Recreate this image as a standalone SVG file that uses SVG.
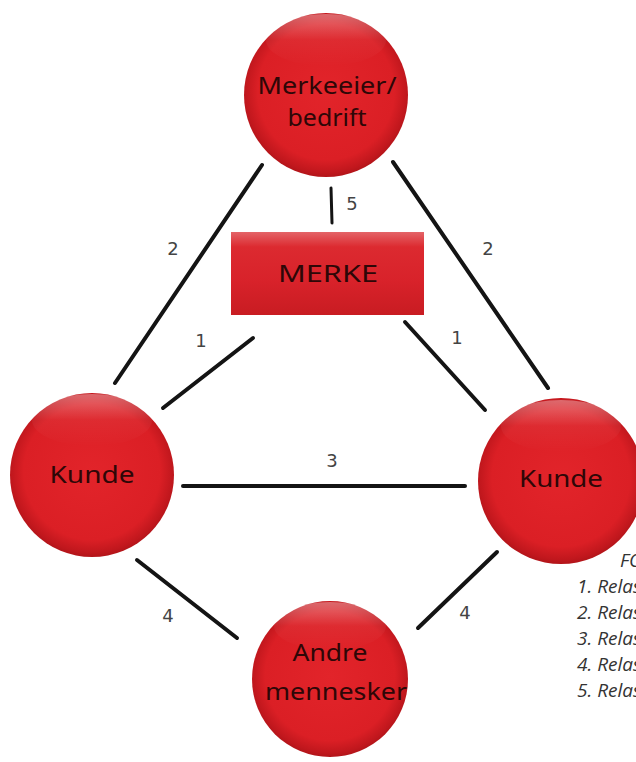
<svg xmlns="http://www.w3.org/2000/svg" width="636" height="762" viewBox="0 0 636 762">
  <defs>
    <radialGradient id="ball" cx="50%" cy="48%" r="52%">
      <stop offset="0" stop-color="#e2242a"/>
      <stop offset="0.8" stop-color="#db1f25"/>
      <stop offset="0.95" stop-color="#c0171d"/>
      <stop offset="1" stop-color="#b21419"/>
    </radialGradient>
    <linearGradient id="shine" x1="0" y1="0" x2="0" y2="1">
      <stop offset="0" stop-color="#ffffff" stop-opacity="0.35"/>
      <stop offset="0.5" stop-color="#ffffff" stop-opacity="0.05"/>
      <stop offset="1" stop-color="#ffffff" stop-opacity="0"/>
    </linearGradient>
    <linearGradient id="box" x1="0" y1="0" x2="0" y2="1">
      <stop offset="0" stop-color="#e46468"/>
      <stop offset="0.18" stop-color="#dc2a30"/>
      <stop offset="0.6" stop-color="#d8222a"/>
      <stop offset="1" stop-color="#c81c22"/>
    </linearGradient>
  </defs>
  <style>
    .ball { fill: url(#ball); }
    .shine { fill: url(#shine); }
    .lbl { font-family: "Noto Sans", "Open Sans", sans-serif; fill: #2e0707; text-anchor: middle; font-size: 24px; }
    .num { font-family: "DejaVu Sans", "Liberation Sans", sans-serif; fill: #444444; text-anchor: middle; font-size: 18px; }
    .conn line { stroke: #141414; stroke-width: 4; stroke-linecap: round; }
    .leg { font-family: "Open Sans", "Noto Sans", sans-serif; font-style: italic; fill: #333; font-size: 19px; }
  </style>

  <g id="connectors" class="conn">
    <line x1="262" y1="165" x2="115" y2="383"/>
    <line x1="393" y1="162" x2="548" y2="388"/>
    <line x1="163" y1="408" x2="253" y2="338"/>
    <line x1="405" y1="322" x2="485" y2="410"/>
    <line x1="183" y1="486" x2="465" y2="486"/>
    <line x1="137" y1="560" x2="237" y2="638"/>
    <line x1="497" y1="552" x2="418" y2="628"/>
    <line x1="331" y1="188" x2="332" y2="223" style="stroke-width:3"/>
  </g>

  <g id="connector-labels">
    <text class="num" x="173" y="255">2</text>
    <text class="num" x="488" y="255">2</text>
    <text class="num" x="201" y="347">1</text>
    <text class="num" x="457" y="344">1</text>
    <text class="num" x="332" y="467">3</text>
    <text class="num" x="168" y="622">4</text>
    <text class="num" x="465" y="619">4</text>
    <text class="num" x="352" y="210">5</text>
  </g>

  <g id="node-merkeeier">
    <circle class="ball" cx="326" cy="95" r="82"/>
    <ellipse class="shine" cx="326" cy="40" rx="60" ry="26"/>
    <text class="lbl" x="327" y="94" textLength="139" lengthAdjust="spacingAndGlyphs">Merkeeier/</text>
    <text class="lbl" x="327" y="126" textLength="79" lengthAdjust="spacingAndGlyphs">bedrift</text>
  </g>

  <g id="node-merke">
    <rect x="231" y="232" width="193" height="83" fill="url(#box)"/>
    <text class="lbl" x="328" y="282" textLength="100" lengthAdjust="spacingAndGlyphs">MERKE</text>
  </g>

  <g id="node-kunde-left">
    <circle class="ball" cx="92" cy="475" r="82"/>
    <ellipse class="shine" cx="92" cy="420" rx="60" ry="26"/>
    <text class="lbl" x="92" y="483" textLength="85" lengthAdjust="spacingAndGlyphs">Kunde</text>
  </g>

  <g id="node-kunde-right">
    <circle class="ball" cx="561" cy="481" r="83"/>
    <ellipse class="shine" cx="561" cy="426" rx="60" ry="26"/>
    <text class="lbl" x="561" y="487" textLength="84" lengthAdjust="spacingAndGlyphs">Kunde</text>
  </g>

  <g id="node-andre">
    <circle class="ball" cx="330" cy="679" r="78"/>
    <ellipse class="shine" cx="330" cy="626" rx="56" ry="24"/>
    <text class="lbl" x="330" y="661" textLength="75" lengthAdjust="spacingAndGlyphs">Andre</text>
    <text class="lbl" x="336" y="700" textLength="142" lengthAdjust="spacingAndGlyphs">mennesker</text>
  </g>

  <g id="legend">
    <text class="leg" x="620" y="567">FO</text>
    <text class="leg" x="577" y="593">1. Relas</text>
    <text class="leg" x="577" y="619">2. Relas</text>
    <text class="leg" x="577" y="645">3. Relas</text>
    <text class="leg" x="577" y="671">4. Relas</text>
    <text class="leg" x="577" y="697">5. Relas</text>
  </g>
</svg>
